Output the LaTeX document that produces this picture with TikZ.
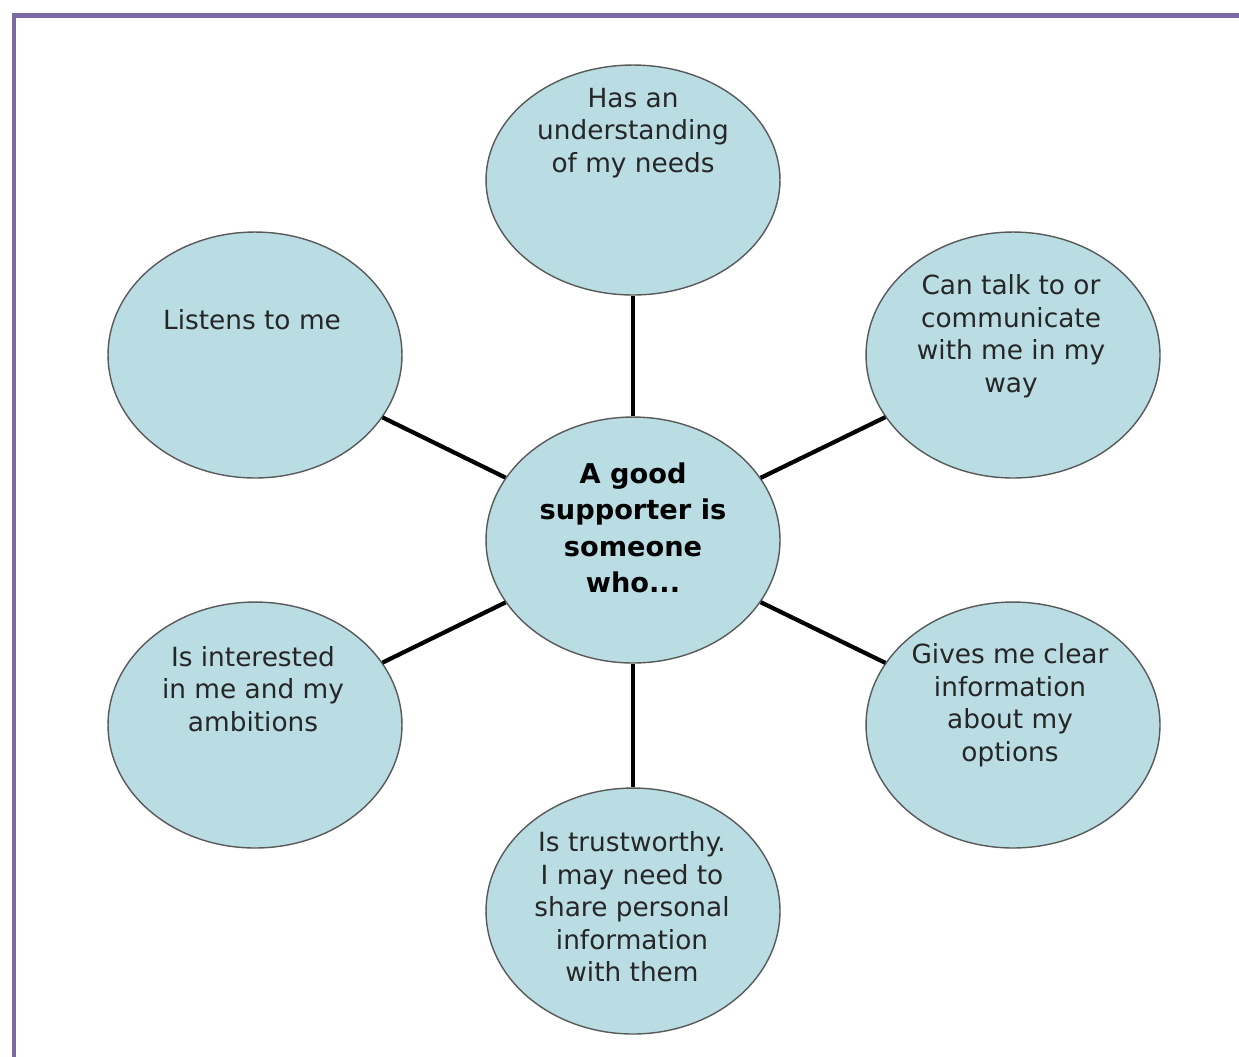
\documentclass[tikz,border=0pt]{standalone}
\usepackage{fontspec}
\setmainfont{DejaVu Sans}
\usetikzlibrary{shapes.geometric}

\definecolor{bubblefill}{HTML}{B9DDE3}
\definecolor{framecol}{HTML}{7B69A2}

\tikzset{
  bubble/.style={ellipse, draw=black!65, line width=0.8pt, fill=bubblefill,
    minimum width=5.88cm, minimum height=4.92cm, inner sep=0pt},
  txt/.style={align=center, text=black!85, font=\fontsize{15}{18.5}\selectfont},
  hubtxt/.style={align=center, text=black, font=\bfseries\fontsize{15.5}{20.7}\selectfont},
  spoke/.style={line width=2.4pt, black}
}

\begin{document}
\begin{tikzpicture}[x=0.02cm, y=-0.02cm]
  \useasboundingbox (0,0) rectangle (1239,1056);
  % frame
  \draw[framecol, line width=0.1cm] (14,1070) -- (14,15) -- (1250,15);

  \node[bubble] (hub) at (633,540) {};
  \node[bubble, minimum height=4.6cm] (needs) at (633,180) {};
  \node[bubble] (listens) at (255,355) {};
  \node[bubble] (talk) at (1013,355) {};
  \node[bubble] (interest) at (255,725) {};
  \node[bubble] (options) at (1013,725) {};
  \node[bubble] (trust) at (633,911) {};

  \draw[spoke] (needs) -- (hub);
  \draw[spoke] (listens) -- (hub);
  \draw[spoke] (talk) -- (hub);
  \draw[spoke] (interest) -- (hub);
  \draw[spoke] (options) -- (hub);
  \draw[spoke] (trust) -- (hub);

  \node[hubtxt] (hubtext) at (633,528) {A good\\supporter is\\someone\\who...};
  \node[txt] (needstext) at (633,133) {Has an\\understanding\\of my needs};
  \node[txt] (listenstext) at (252,320) {Listens to me};
  \node[txt] (talktext) at (1011,336) {Can talk to or\\communicate\\with me in my\\way};
  \node[txt] (interesttext) at (253,689) {Is interested\\in me and my\\ambitions};
  \node[txt] (optionstext) at (1010,705) {Gives me clear\\information\\about my\\options};
  \node[txt] (trusttext) at (632,907) {Is trustworthy.\\I may need to\\share personal\\information\\with them};
\end{tikzpicture}
\end{document}
